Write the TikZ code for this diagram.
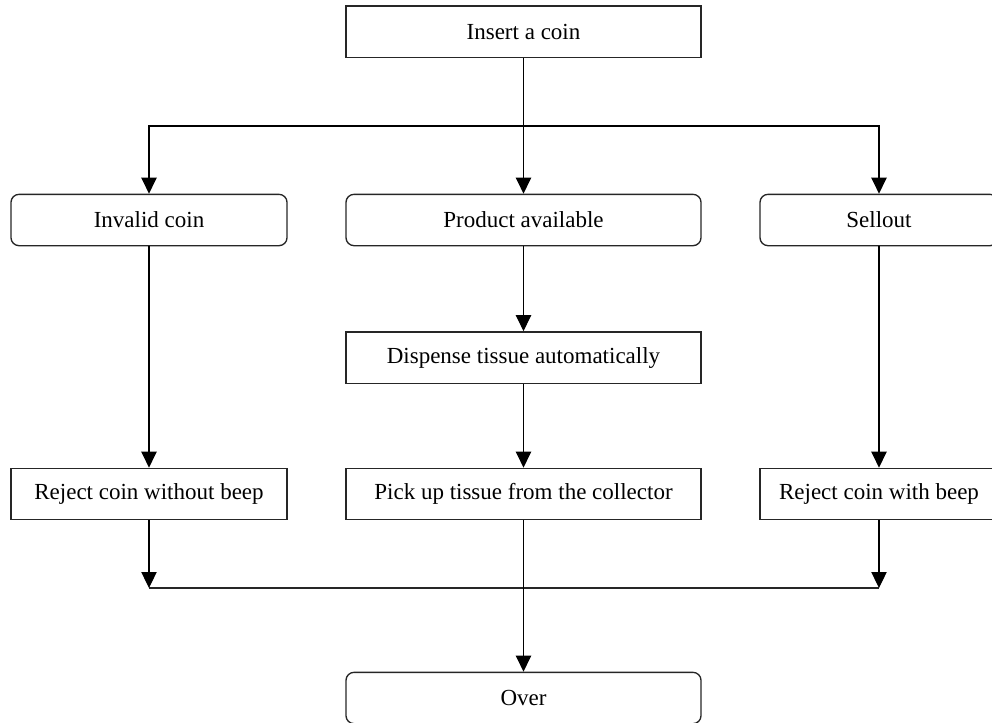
\documentclass[tikz,border=0pt]{standalone}
\usepackage{fontspec}
\setmainfont{Liberation Serif}
\usetikzlibrary{arrows.meta}
\begin{document}
\begin{tikzpicture}[x=0.75pt,y=-0.75pt,
  box/.style={draw=black!85,line width=1pt,inner sep=0pt,minimum height=38.5pt,
    font=\fontsize{17.25pt}{20pt}\selectfont},
  rbox/.style={box,rounded corners=6pt},
  wide/.style={minimum width=266.25pt},
  side/.style={minimum width=207pt},
  rside/.style={minimum width=178.5pt},
  arr/.style={draw=black,line width=0.8pt,-{Triangle[length=12pt,width=11.5pt]}},
  ln/.style={draw=black!85,line width=1.4pt}]
\useasboundingbox (0,0) rectangle (992,722);
\clip (0,0) rectangle (992,722);
\node[box,wide] (ins) at (523.5,31.5) {Insert a coin};
\node[rbox,side] (inv) at (149,220) {Invalid coin};
\node[rbox,wide] (prod) at (523.5,220) {Product available};
\node[rbox,rside] (sell) at (879,220) {Sellout};
\node[box,wide] (disp) at (523.5,357.5) {Dispense tissue automatically};
\node[box,side] (rejno) at (149,494) {Reject coin without beep};
\node[box,wide] (pick) at (523.5,494) {Pick up tissue from the collector};
\node[box,rside] (rejw) at (879,494) {Reject coin with beep};
\node[rbox,wide] (over) at (523.5,698) {Over};
\coordinate (j1) at (523.5,126);
\coordinate (j2l) at (149,588);
\coordinate (j2r) at (879,588);
\draw[ln] (inv.north |- j1) -- (sell.north |- j1);
\draw[arr] (ins) -- (prod);
\draw[arr] (j1) -| (inv);
\draw[arr] (j1) -| (sell);
\draw[arr] (inv) -- (rejno);
\draw[arr] (prod) -- (disp);
\draw[arr] (disp) -- (pick);
\draw[arr] (sell) -- (rejw);
\draw[ln] (j2l) -- (j2r);
\draw[arr] (rejno) -- (j2l);
\draw[arr] (rejw) -- (j2r);
\draw[arr] (pick) -- (over);
\end{tikzpicture}
\end{document}
